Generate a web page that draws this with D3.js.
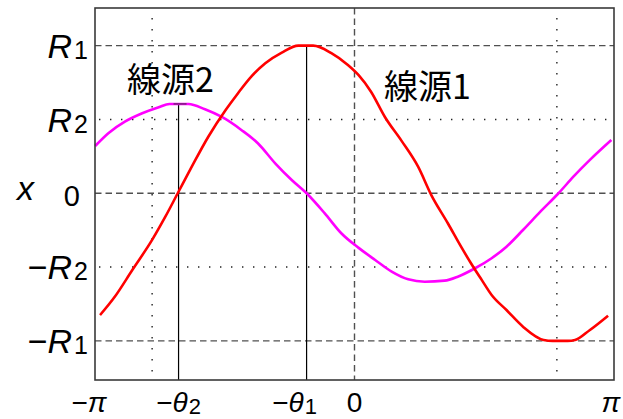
<!DOCTYPE html>
<html>
<head>
<meta charset="utf-8">
<script src="https://cdn.jsdelivr.net/npm/d3@7"></script>
<style>
  html, body { margin: 0; padding: 0; background: #fff; }
  svg { display: block; }
  text { font-family: "Liberation Sans", Arial, sans-serif; fill: #000; }
  .cjk { font-family: "Noto Sans CJK JP", "Noto Sans CJK SC", sans-serif; }
</style>
</head>
<body>
<svg id="chart" width="623" height="419"></svg>
<script>
// Amplitudes and phases (x in radians, displacement in units of R1)
const R1 = 1.0;
const R2 = 0.5;
const theta1 = 0.58;
const theta2 = 2.13;

// Source 1 (red) sampled displacement
const source1X = [-3.08, -2.90, -2.69, -2.45, -2.29, -2.14, -1.97, -1.77, -1.56, -1.41, -1.25, -1.08,
  -0.88, -0.68, -0.50, -0.28, -0.08, 0.05, 0.20, 0.37, 0.57, 0.77, 0.93, 1.13, 1.29, 1.41, 1.54,
  1.66, 1.84, 2.04, 2.29, 2.40, 2.58, 2.67, 2.85, 3.07];
const source1Y = [-0.825, -0.700, -0.520, -0.316, -0.159, 0.000, 0.180, 0.383, 0.564, 0.678, 0.790, 0.881,
  0.953, 1.000, 1.000, 0.949, 0.869, 0.800, 0.688, 0.515, 0.355, 0.180, -0.012, -0.203, -0.362, -0.474, -0.587,
  -0.689, -0.791, -0.904, -0.994, -1.000, -1.000, -0.994, -0.926, -0.829];

// Source 2 (magenta) sampled displacement
const source2X = [-3.14, -2.98, -2.78, -2.57, -2.37, -2.24, -2.01, -1.81, -1.60, -1.37, -1.17, -0.96,
  -0.76, -0.58, -0.36, -0.16, 0.05, 0.25, 0.45, 0.65, 0.85, 1.09, 1.25, 1.46, 1.66, 1.84, 2.04,
  2.25, 2.47, 2.65, 2.85, 3.11];
const source2Y = [0.320, 0.407, 0.485, 0.542, 0.583, 0.605, 0.605, 0.569, 0.515, 0.429, 0.339, 0.203,
  0.090, 0.000, -0.136, -0.271, -0.370, -0.452, -0.531, -0.583, -0.599, -0.592, -0.565, -0.508, -0.440, -0.362, -0.249,
  -0.125, 0.000, 0.112, 0.226, 0.361];

// Tick values and their labels
const xTickValues = [-Math.PI, -theta2, -theta1, 0, Math.PI];
const xTickSign = ["\u2212", "\u2212", "\u2212", "", ""];
const xTickSym = ["\u03c0", "\u03b8", "\u03b8", "0", "\u03c0"];
const xTickSub = ["", "2", "1", "", ""];

const yTickValues = [R1, R2, 0, -R2, -R1];
const yTickSign = ["", "", "", "\u2212", "\u2212"];
const yTickSym = ["R", "R", "0", "R", "R"];
const yTickSub = ["1", "2", "", "2", "1"];

// Grid lines
const dashedY = [R1, 0, -R1];
const dottedY = [R2, -R2];
const dashedX = [0];
const dottedX = [-2.45, 2.45];

const sourceNames = ["\u7dda\u6e902", "\u7dda\u6e901"];

(function draw() {
  const plotLeft = 95, plotRight = 614, plotTop = 8, plotBottom = 380;
  const svg = d3.select("#chart");

  const x = d3.scaleLinear().domain([-Math.PI, Math.PI]).range([plotLeft, plotRight]);
  const y = d3.scaleLinear().domain([-1.265, 1.255]).range([plotBottom, plotTop]);

  const grid = svg.append("g");
  grid.selectAll(".hdash").data(dashedY).join("line")
    .attr("x1", plotLeft).attr("x2", plotRight)
    .attr("y1", d => y(d)).attr("y2", d => y(d))
    .attr("stroke", "#505050").attr("stroke-width", 1.4).attr("stroke-dasharray", "6.5,4");
  grid.selectAll(".vdash").data(dashedX).join("line")
    .attr("x1", d => x(d)).attr("x2", d => x(d))
    .attr("y1", plotTop).attr("y2", plotBottom)
    .attr("stroke", "#505050").attr("stroke-width", 1.4).attr("stroke-dasharray", "6.5,4");
  grid.selectAll(".hdot").data(dottedY).join("line")
    .attr("x1", plotLeft + 4).attr("x2", plotRight)
    .attr("y1", d => y(d)).attr("y2", d => y(d))
    .attr("stroke", "#222").attr("stroke-width", 1.4).attr("stroke-dasharray", "1.4,9.6");
  grid.selectAll(".vdot").data(dottedX).join("line")
    .attr("x1", d => x(d)).attr("x2", d => x(d))
    .attr("y1", plotTop + 10).attr("y2", plotBottom)
    .attr("stroke", "#222").attr("stroke-width", 1.4).attr("stroke-dasharray", "1.4,9.6");

  // Phase markers from the axis up to each peak
  const markers = [
    { at: -theta2, peak: d3.max(source2Y) },
    { at: -theta1, peak: R1 }
  ];
  svg.selectAll(".marker").data(markers).join("line")
    .attr("x1", d => x(d.at)).attr("x2", d => x(d.at))
    .attr("y1", plotBottom).attr("y2", d => y(d.peak))
    .attr("stroke", "#000").attr("stroke-width", 1.2);

  const line = d3.line()
    .x(d => x(d[0])).y(d => y(d[1]))
    .curve(d3.curveMonotoneX);

  svg.append("path")
    .datum(d3.zip(source2X, source2Y))
    .attr("d", line)
    .attr("fill", "none").attr("stroke", "#ff00ff").attr("stroke-width", 2.6);
  svg.append("path")
    .datum(d3.zip(source1X, source1Y))
    .attr("d", line)
    .attr("fill", "none").attr("stroke", "#ff0000").attr("stroke-width", 2.6);

  // small cap on the source 2 peak
  svg.append("line")
    .attr("x1", x(-theta2) - 5).attr("x2", x(-theta2) + 8)
    .attr("y1", y(d3.max(source2Y))).attr("y2", y(d3.max(source2Y)))
    .attr("stroke", "#333").attr("stroke-width", 1);

  // frame
  svg.append("rect")
    .attr("x", plotLeft).attr("y", plotTop)
    .attr("width", plotRight - plotLeft).attr("height", plotBottom - plotTop)
    .attr("fill", "none").attr("stroke", "#3a3a3a").attr("stroke-width", 1.6);

  // y tick labels
  const yLab = svg.append("g");
  yTickValues.forEach((v, i) => {
    const t = yLab.append("text")
      .attr("x", yTickSub[i] ? 88 : 80)
      .attr("y", y(v))
      .attr("dy", "0.36em")
      .attr("text-anchor", "end")
      .style("font-size", "34px");
    if (yTickSign[i]) t.append("tspan").text(yTickSign[i]);
    t.append("tspan").text(yTickSym[i])
      .style("font-style", yTickSym[i] === "R" ? "italic" : "normal")
      .style("font-size", yTickSym[i] === "R" ? "34px" : "29px");
    if (yTickSub[i]) t.append("tspan").text(yTickSub[i])
      .attr("dx", 2).attr("dy", 1).style("font-size", "25px");
  });

  // axis name
  svg.append("text").attr("x", 17).attr("y", 200)
    .style("font-size", "34px").style("font-style", "italic").text("x");

  // x tick labels
  const xShift = [-6, 0, -12, 0, -3];
  const xLab = svg.append("g");
  xTickValues.forEach((v, i) => {
    const t = xLab.append("text")
      .attr("x", x(v) + xShift[i])
      .attr("y", 412)
      .attr("text-anchor", "middle")
      .style("font-size", "28px");
    if (xTickSign[i]) t.append("tspan").text(xTickSign[i]);
    t.append("tspan").text(xTickSym[i])
      .style("font-style", xTickSym[i] === "0" ? "normal" : "italic");
    if (xTickSub[i]) t.append("tspan").text(xTickSub[i])
      .attr("dx", 1).attr("dy", 2).style("font-size", "22px");
  });

  // source names
  svg.append("text").attr("class", "cjk")
    .attr("x", 127).attr("y", 92)
    .style("font-size", "34px").text(sourceNames[0]);
  svg.append("text").attr("class", "cjk")
    .attr("x", 384).attr("y", 99)
    .style("font-size", "34px").text(sourceNames[1]);
})();
</script>
</body>
</html>
